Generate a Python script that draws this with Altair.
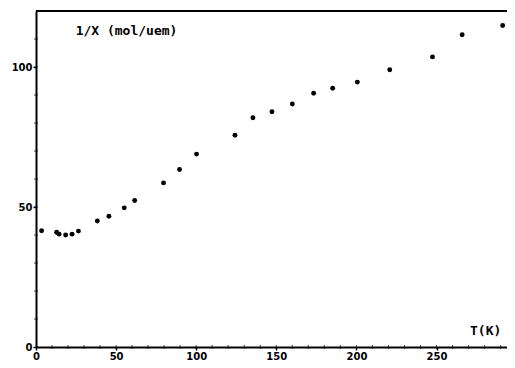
import altair as alt
import pandas as pd

# Data
temp_k = [3.5, 12.9, 14.4, 18.5, 22.5, 26.5, 38.3, 45.5, 55.1, 61.6, 79.6,
          89.6, 100.2, 124.2, 135.4, 147.3, 160.0, 173.3, 185.2, 200.6,
          220.8, 247.5, 266.0, 291.3]
inv_chi = [41.5, 41.0, 40.3, 40.0, 40.3, 41.4, 45.0, 46.7, 49.7, 52.3, 58.6,
           63.4, 68.9, 75.6, 81.9, 84.0, 86.8, 90.6, 92.4, 94.6,
           99.0, 103.6, 111.5, 114.8]

x_major = [0, 50, 100, 150, 200, 250]
y_major = [0, 50, 100]
x_minor = list(range(10, 300, 10))
y_minor = list(range(10, 120, 10))

ann_text = ["1/X  (mol/uem)", "T(K)"]
ann_x = [56.5, 280.7]
ann_y = [112.8, 5.6]

X_DOM = [0, 294]
Y_DOM = [0, 120]

df = pd.DataFrame({"T": temp_k, "inv": inv_chi})
ann = pd.DataFrame({"label": ann_text, "x": ann_x, "y": ann_y})
xmin = pd.DataFrame({"v": [v for v in x_minor if v < X_DOM[1]]})
ymin = pd.DataFrame({"v": y_minor})

lab_font = "DejaVu Sans"
mono = "DejaVu Sans Mono"

W, H = 471, 336

xs = alt.Scale(domain=X_DOM, nice=False, zero=False)
ys = alt.Scale(domain=Y_DOM, nice=False, zero=False)

points = alt.Chart(df).mark_circle(size=24, color="black", opacity=1).encode(
    x=alt.X("T:Q", scale=xs,
            axis=alt.Axis(values=x_major, title=None, grid=False,
                          domainColor="black", domainWidth=2,
                          tickColor="black", tickSize=3, tickWidth=1.5,
                          labelFont=lab_font, labelFontWeight="bold",
                          labelFontSize=10, labelColor="black",
                          labelPadding=1, labelFlush=False)),
    y=alt.Y("inv:Q", scale=ys,
            axis=alt.Axis(values=y_major, title=None, grid=False,
                          domainColor="black", domainWidth=2,
                          tickColor="black", tickSize=3, tickWidth=1.5,
                          labelFont=lab_font, labelFontWeight="bold",
                          labelFontSize=10, labelColor="black",
                          labelPadding=1, labelFlush=False)),
)

top_line = alt.Chart(df).mark_rule(color="black", strokeWidth=1.6).encode(
    y=alt.datum(120, scale=ys)
)

xminor = alt.Chart(xmin).mark_tick(color="black", thickness=1, size=4).encode(
    x=alt.X("v:Q", scale=xs),
    y=alt.value(H),
)

yminor = alt.Chart(ymin).mark_tick(color="black", thickness=1, size=4).encode(
    y=alt.Y("v:Q", scale=ys),
    x=alt.value(0),
)

labels = alt.Chart(ann).mark_text(font=mono, fontWeight="bold", fontSize=13,
                                  color="black", align="center",
                                  baseline="middle").encode(
    x=alt.X("x:Q", scale=xs),
    y=alt.Y("y:Q", scale=ys),
    text="label:N",
)

chart = alt.layer(top_line, xminor, yminor, points, labels).properties(
    width=W, height=H,
    autosize=alt.AutoSizeParams(type="none"),
    padding={"left": 28, "top": 3, "right": 0, "bottom": 13},
    background="white",
).configure_view(stroke=None)

chart.save("out.html", embed_options={"renderer": "svg", "actions": False})
